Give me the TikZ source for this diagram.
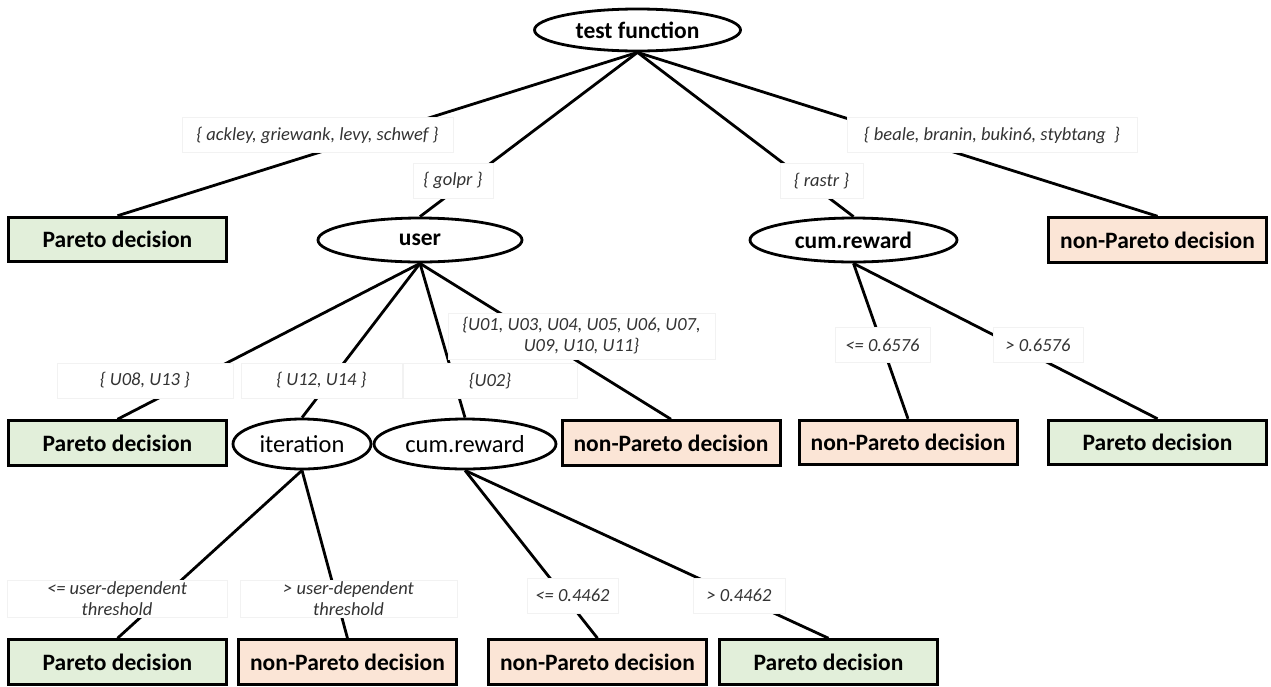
\documentclass[tikz,border=0pt]{standalone}
\usepackage{fontspec}
\setmainfont{Carlito}
\usetikzlibrary{shapes.geometric}
\usetikzlibrary{positioning}
\definecolor{paretogreen}{HTML}{E2EFDA}
\definecolor{nonparetopeach}{HTML}{FBE5D6}
\definecolor{condgray}{HTML}{333333}
\tikzset{
split/.style={ellipse, draw, line width=2.8pt, inner sep=0pt, font=\bfseries\fontsize{23.5}{27}\selectfont},
subsplit/.style={split, font=\fontsize{24.5}{27}\selectfont},
leaf/.style={rectangle, draw, line width=3pt, inner sep=0pt, minimum width=218pt, minimum height=44.5pt, font=\bfseries\fontsize{23.5}{27}\selectfont},
pareto/.style={leaf, fill=paretogreen},
nonpareto/.style={leaf, fill=nonparetopeach},
cond/.style={rectangle, draw=black!5, line width=0.6pt, fill=white, inner sep=0pt, minimum height=35pt, align=center, text=condgray, font=\itshape\fontsize{18.5}{21}\selectfont},
branch/.style={line width=2.8pt}
}
\begin{document}
\begin{tikzpicture}[x=1pt, y=-1pt]
\useasboundingbox (0,0) rectangle (1271,686);
% splits
\node[split, minimum width=206pt, minimum height=42pt] (test) at (637.5,30) {test function};
\node[split, minimum width=204pt, minimum height=44pt] (user) at (420,240) {user};
\node[split, minimum width=207pt, minimum height=44pt] (cumR) at (853.5,240) {cum.reward};
\node[subsplit, minimum width=138pt, minimum height=50pt] (iter) at (302,444) {iteration};
\node[subsplit, minimum width=182pt, minimum height=50pt] (cumL) at (465,444) {cum.reward};
% leaves
\node[pareto] (p1) at (117.5,239.5) {Pareto decision};
\node[nonpareto] (np1) at (1157.5,240) {non-Pareto decision};
\node[pareto] (p2) at (117.5,443) {Pareto decision};
\node[nonpareto] (np2) at (671,443) {non-Pareto decision};
\node[nonpareto] (np3) at (908,442.5) {non-Pareto decision};
\node[pareto] (p3) at (1157.5,442.5) {Pareto decision};
\node[pareto] (p4) at (117.5,662) {Pareto decision};
\node[nonpareto] (np4) at (347.5,662) {non-Pareto decision};
\node[nonpareto] (np5) at (597.5,662) {non-Pareto decision};
\node[pareto] (p5) at (828.5,662) {Pareto decision};
% branches
\draw[branch] (test.south) -- (p1.north);
\draw[branch] (test.south) -- (user.north);
\draw[branch] (test.south) -- (cumR.north);
\draw[branch] (test.south) -- (np1.north);
\draw[branch] (user.south) -- (p2.north);
\draw[branch] (user.south) -- (iter.north);
\draw[branch] (user.south) -- (cumL.north);
\draw[branch] (user.south) -- (np2.north);
\draw[branch] (cumR.south) -- (np3.north);
\draw[branch] (cumR.south) -- (p3.north);
\draw[branch] (iter.south) -- (p4.north);
\draw[branch] (iter.south) -- (np4.north);
\draw[branch] (cumL.south) -- (np5.north);
\draw[branch] (cumL.south) -- (p5.north);
% conditions
\node[cond, minimum width=271pt] (cAckley) at (317.5,135) {\{ ackley, griewank, levy, schwef \}};
\node[cond, minimum width=290pt] (cBeale) at (992,135) {\{ beale, branin, bukin6, stybtang~~\}};
\node[cond, minimum width=80pt] (cGolpr) at (453,180.5) {\{ golpr \}};
\node[cond, minimum width=83pt] (cRastr) at (821.5,181) {\{ rastr \}};
\node[cond, minimum width=176pt] (cU08) at (145,380.5) {\{ U08, U13 \}};
\node[cond, minimum width=161pt] (cU12) at (321.5,380.5) {\{ U12, U14 \}};
\node[cond, minimum width=174pt] (cU02) at (490,381) {\{U02\}};
\node[cond, minimum width=267pt, minimum height=46pt] (cU01) at (581.5,336) {\{U01, U03, U04, U05, U06, U07,\\ U09, U10, U11\}};
\node[cond, minimum width=95pt] (cLe6576) at (882.5,345) {<= 0.6576};
\node[cond, minimum width=90pt] (cGt6576) at (1038,345) {> 0.6576};
\node[cond, minimum width=220pt, minimum height=37pt] (cLeUser) at (117,598.5) {<= user-dependent\\ threshold};
\node[cond, minimum width=217pt, minimum height=37pt] (cGtUser) at (348.5,598.5) {> user-dependent\\ threshold};
\node[cond, minimum width=91pt] (cLe4462) at (572.5,595.5) {<= 0.4462};
\node[cond, minimum width=92pt] (cGt4462) at (739,595.5) {> 0.4462};
\end{tikzpicture}
\end{document}
